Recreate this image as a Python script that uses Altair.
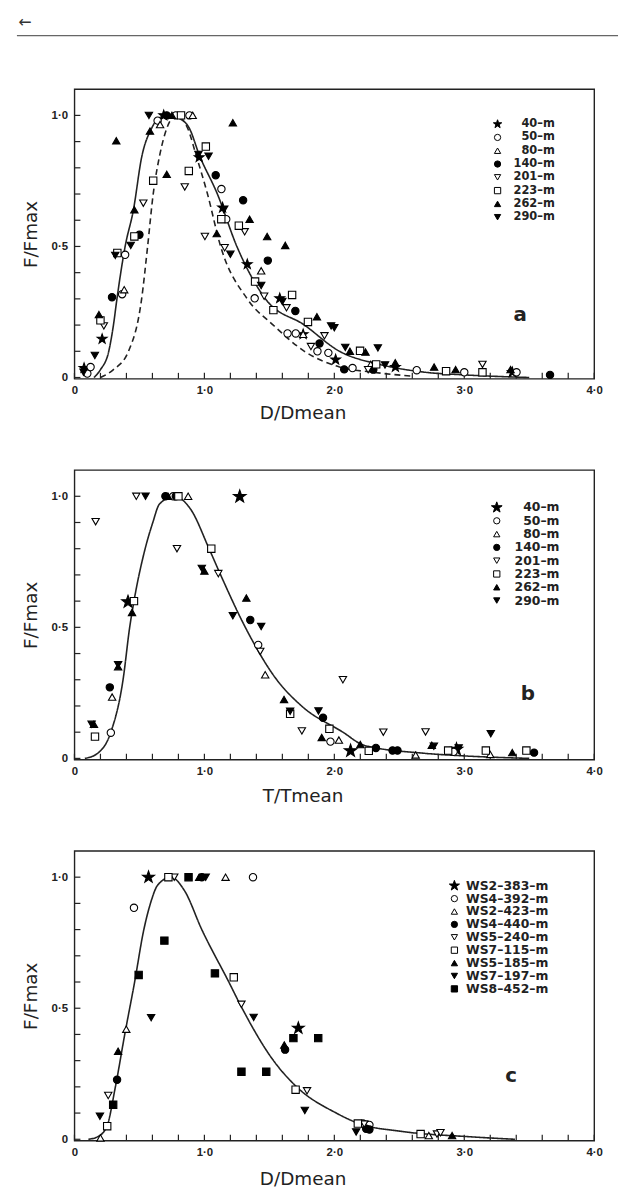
import altair as alt
import pandas as pd

W, H = 524, 292
XDOM = [0, 4]
YDOM = [-0.005, 1.1]
XTICKS = [0, 0.2, 0.4, 0.6, 0.8, 1.0, 1.2, 1.4, 1.6, 1.8, 2.0, 2.2, 2.4, 2.6, 2.8, 3.0, 3.2, 3.4, 3.6, 3.8, 4.0]
YTICKS = [0, 0.1, 0.2, 0.3, 0.4, 0.5, 0.6, 0.7, 0.8, 0.9, 1.0]
XLABELS = [0, 1, 2, 3, 4]
YLABELS = [0, 0.5, 1.0]

# ---------------- panel a : F/Fmax vs D/Dmean ----------------
A_NAMES = ["40–m", "50–m", "80–m", "140–m", "201–m", "223–m", "262–m", "290–m"]
A_40_X = [0.074, 0.213, 0.687, 0.96, 1.14, 1.33, 1.58, 1.76, 2.01, 2.47, 3.37]
A_40_Y = [0.036, 0.147, 1.0, 0.84, 0.648, 0.432, 0.302, 0.165, 0.068, 0.04, 0.02]
A_50_X = [0.099, 0.124, 0.367, 0.39, 0.64, 0.78, 0.885, 1.131, 1.168, 1.387, 1.64, 1.703, 1.87, 1.954, 2.14, 2.634, 3.0, 3.402]
A_50_Y = [0.015, 0.04, 0.318, 0.468, 0.98, 1.0, 1.0, 0.719, 0.604, 0.302, 0.168, 0.168, 0.1, 0.094, 0.036, 0.028, 0.02, 0.02]
A_80_X = [0.383, 0.659, 0.91, 1.437, 1.76, 2.28]
A_80_Y = [0.335, 0.965, 1.0, 0.407, 0.165, 0.05]
A_140_X = [0.289, 0.5, 0.71, 1.087, 1.298, 1.488, 1.7, 1.886, 2.076, 2.3, 3.66]
A_140_Y = [0.306, 0.545, 1.0, 0.772, 0.676, 0.446, 0.254, 0.13, 0.031, 0.03, 0.01]
A_201_X = [0.226, 0.53, 0.849, 1.004, 1.156, 1.31, 1.46, 1.632, 1.82, 1.924, 2.26, 3.14]
A_201_Y = [0.197, 0.665, 0.727, 0.538, 0.495, 0.556, 0.31, 0.266, 0.118, 0.159, 0.03, 0.05]
A_223_X = [0.2, 0.33, 0.461, 0.606, 0.82, 0.88, 1.011, 1.13, 1.265, 1.39, 1.531, 1.675, 1.797, 2.198, 2.322, 2.86, 3.14]
A_223_Y = [0.218, 0.475, 0.538, 0.751, 1.0, 0.788, 0.881, 0.604, 0.579, 0.366, 0.257, 0.315, 0.212, 0.102, 0.05, 0.024, 0.02]
A_262_X = [0.188, 0.322, 0.461, 0.581, 0.71, 0.75, 1.095, 1.219, 1.348, 1.483, 1.622, 1.866, 2.12, 2.24, 2.469, 2.768, 2.933, 3.356]
A_262_Y = [0.24, 0.903, 0.64, 0.94, 0.775, 1.0, 0.549, 0.972, 0.604, 0.538, 0.504, 0.232, 0.1, 0.097, 0.056, 0.04, 0.03, 0.03]
A_290_X = [0.07, 0.157, 0.314, 0.433, 0.573, 0.954, 1.032, 1.15, 1.2, 1.437, 1.6, 1.975, 2.0, 2.084, 2.335, 2.39]
A_290_Y = [0.02, 0.084, 0.466, 0.504, 1.0, 0.851, 0.844, 0.64, 0.47, 0.351, 0.29, 0.197, 0.19, 0.115, 0.113, 0.048]
A_SOLID_X = [0.15, 0.2, 0.264, 0.3, 0.327, 0.39, 0.454, 0.517, 0.593, 0.65, 0.72, 0.8, 0.885, 0.96, 1.1, 1.25, 1.47, 1.77, 2.04, 2.35, 2.7, 3.0, 3.5]
A_SOLID_Y = [0.0, 0.03, 0.1, 0.2, 0.3, 0.5, 0.64, 0.84, 0.95, 0.99, 1.0, 0.99, 0.95, 0.85, 0.7, 0.5, 0.3, 0.2, 0.1, 0.05, 0.02, 0.01, 0.0]
A_DASH_X = [0.2, 0.3, 0.416, 0.517, 0.563, 0.606, 0.657, 0.71, 0.78, 0.872, 0.935, 1.024, 1.125, 1.33, 1.53, 1.77, 2.04, 2.3, 2.6]
A_DASH_Y = [0.0, 0.03, 0.1, 0.3, 0.5, 0.7, 0.85, 0.95, 1.0, 0.95, 0.85, 0.7, 0.5, 0.3, 0.2, 0.1, 0.04, 0.02, 0.005]

# ---------------- panel b : F/Fmax vs T/Tmean ----------------
B_NAMES = A_NAMES
B_40_X = [0.412, 1.272, 2.125, 2.94]
B_40_Y = [0.597, 0.999, 0.029, 0.035]
B_50_X = [0.28, 0.76, 1.414, 1.97, 2.918]
B_50_Y = [0.098, 1.0, 0.433, 0.064, 0.025]
B_80_X = [0.29, 0.875, 1.468, 2.035, 2.626, 3.2]
B_80_Y = [0.234, 1.0, 0.319, 0.07, 0.013, 0.015]
B_140_X = [0.272, 0.70, 0.78, 1.353, 1.913, 2.32, 2.448, 2.486, 3.537]
B_140_Y = [0.271, 1.0, 1.0, 0.528, 0.155, 0.04, 0.03, 0.03, 0.022]
B_201_X = [0.163, 0.476, 0.789, 1.107, 1.43, 1.75, 2.066, 2.377, 2.702]
B_201_Y = [0.903, 1.0, 0.8, 0.705, 0.408, 0.105, 0.3, 0.1, 0.101]
B_223_X = [0.158, 0.458, 0.8, 1.053, 1.66, 1.962, 2.265, 2.876, 3.166, 3.478]
B_223_Y = [0.083, 0.6, 1.0, 0.8, 0.17, 0.113, 0.029, 0.03, 0.03, 0.03]
B_262_X = [0.15, 0.336, 0.443, 0.72, 1.0, 1.323, 1.613, 1.903, 2.2, 2.75, 3.369]
B_262_Y = [0.13, 0.35, 0.557, 1.0, 0.715, 0.612, 0.225, 0.08, 0.053, 0.05, 0.022]
B_290_X = [0.132, 0.336, 0.547, 0.98, 1.219, 1.437, 1.66, 1.878, 2.766, 2.957, 3.204]
B_290_Y = [0.13, 0.357, 1.0, 0.725, 0.544, 0.503, 0.18, 0.181, 0.046, 0.04, 0.094]
B_CURVE_X = [0.08, 0.18, 0.28, 0.374, 0.425, 0.458, 0.544, 0.603, 0.654, 0.768, 0.895, 1.036, 1.125, 1.315, 1.557, 1.748, 2.066, 2.23, 2.68, 2.98, 3.5]
B_CURVE_Y = [0.0, 0.02, 0.1, 0.3, 0.5, 0.6, 0.8, 0.9, 0.97, 1.0, 0.95, 0.8, 0.7, 0.5, 0.3, 0.2, 0.1, 0.05, 0.02, 0.01, 0.0]

# ---------------- panel c : F/Fmax vs D/Dmean ----------------
C_NAMES = ["WS2–383–m", "WS4–392–m", "WS2–423–m", "WS4–440–m", "WS5–240–m",
           "WS7–115–m", "WS5–185–m", "WS7–197–m", "WS8–452–m"]
C_1_X = [0.57, 1.723]
C_1_Y = [1.0, 0.424]
C_2_X = [0.458, 1.374, 2.22, 2.27]
C_2_Y = [0.883, 1.0, 0.06, 0.055]
C_3_X = [0.2, 0.399, 1.163, 2.727]
C_3_Y = [0.005, 0.42, 1.0, 0.014]
C_4_X = [0.328, 0.98, 1.621, 2.245, 2.27]
C_4_Y = [0.227, 1.0, 0.342, 0.04, 0.037]
C_5_X = [0.26, 0.768, 1.285, 1.79, 2.23, 2.79, 2.817]
C_5_Y = [0.167, 1.0, 0.515, 0.185, 0.058, 0.02, 0.025]
C_6_X = [0.252, 0.723, 1.226, 1.702, 2.181, 2.664]
C_6_Y = [0.05, 1.0, 0.618, 0.189, 0.06, 0.02]
C_7_X = [0.336, 0.96, 1.615, 2.906]
C_7_Y = [0.336, 1.0, 0.36, 0.014]
C_8_X = [0.196, 0.59, 1.01, 1.379, 1.773, 2.168]
C_8_Y = [0.088, 0.464, 1.0, 0.465, 0.11, 0.028]
C_9_X = [0.298, 0.494, 0.692, 0.878, 1.081, 1.285, 1.476, 1.685, 1.876]
C_9_Y = [0.132, 0.627, 0.758, 1.0, 0.633, 0.258, 0.258, 0.386, 0.386]
C_CURVE_X = [0.107, 0.18, 0.25, 0.315, 0.387, 0.463, 0.534, 0.585, 0.641, 0.743, 0.845, 0.98, 1.188, 1.29, 1.532, 1.71, 2.015, 2.19, 2.52, 3.03, 3.39]
C_CURVE_Y = [0.0, 0.01, 0.05, 0.2, 0.4, 0.6, 0.8, 0.9, 0.97, 1.0, 0.95, 0.8, 0.6, 0.5, 0.3, 0.2, 0.1, 0.06, 0.03, 0.01, 0.0]

PANEL_LETTERS = ["a", "b", "c"]
LETTER_X = [3.43, 3.49, 3.36]
LETTER_Y = [0.24, 0.244, 0.242]

# unit five-point star outline (custom Vega symbol path)
STAR_PTS = [(0, -1), (0.235, -0.324), (0.951, -0.309), (0.380, 0.124), (0.588, 0.809),
            (0, 0.4), (-0.588, 0.809), (-0.380, 0.124), (-0.951, -0.309), (-0.235, -0.324)]


def star(k):
    return "M" + "L".join(f"{px * k:.3f},{py * k:.3f}" for px, py in STAR_PTS) + "Z"


def points_df(names, xs, ys):
    rows = []
    for n, xl, yl in zip(names, xs, ys):
        for xv, yv in zip(xl, yl):
            rows.append({"series": n, "x": xv, "y": yv})
    return pd.DataFrame(rows)


INK = "#222222"
LBL = "datum.value == 0 ? '0' : replace(format(datum.value, '.1f'), '.', '·')"


def xscale():
    return alt.Scale(domain=XDOM, nice=False, zero=False)


def yscale():
    return alt.Scale(domain=YDOM, nice=False, zero=False)


def make_xaxis(title, ty):
    return alt.Axis(values=XLABELS, labelExpr=LBL, title=title, ticks=False, tickSize=0,
                    domain=False, grid=False, labelFlush=False,
                    labelFont="Liberation Sans", labelFontSize=11.5, labelFontWeight="bold",
                    labelColor=INK, labelPadding=6,
                    titleFont="DejaVu Sans", titleFontSize=18.5, titleFontWeight="normal",
                    titleColor=INK, titleX=230, titleY=ty, titleAlign="center",
                    titleBaseline="alphabetic")


def make_yaxis():
    return alt.Axis(values=YLABELS, labelExpr=LBL, title="F/Fmax", ticks=False, tickSize=0,
                    domain=False, grid=False,
                    labelFont="Liberation Sans", labelFontSize=11.5, labelFontWeight="bold",
                    labelColor=INK, labelPadding=7,
                    titleFont="DejaVu Sans", titleFontSize=18.5, titleFontWeight="normal",
                    titleColor=INK, titleX=-38, titleY=H / 2, titleAngle=270,
                    titleAlign="center", titleBaseline="alphabetic")


def panel(df, names, shapes, fills, curves, letter_i, xtitle, ty, leg, top_deco=False):
    def X(f):
        return alt.X(f, scale=xscale(), axis=make_xaxis(xtitle, ty))

    def Y(f):
        return alt.Y(f, scale=yscale(), axis=make_yaxis())

    layers = []
    for cx, cy, dash in curves:
        line = alt.Chart(pd.DataFrame({"x": cx, "y": cy})).mark_line(
            color=INK, strokeWidth=1.6, interpolate="monotone",
            strokeDash=[6, 4] if dash else [1, 0])
        layers.append(line.encode(x=X("x:Q"), y=Y("y:Q")))
    layers.append(alt.Chart(pd.DataFrame({"x": XTICKS})).mark_rule(color=INK, strokeWidth=1.2).encode(
        x=X("x:Q"), y=alt.value(H), y2=alt.value(H - 6)))
    layers.append(alt.Chart(pd.DataFrame({"y": YTICKS})).mark_rule(color=INK, strokeWidth=1.2).encode(
        y=Y("y:Q"), x=alt.value(0), x2=alt.value(6)))
    layers.append(alt.Chart(df).mark_point(filled=True, strokeWidth=1.1,
                                           opacity=1, size=55).encode(
        x=X("x:Q"), y=Y("y:Q"),
        shape=alt.Shape("series:N", scale=alt.Scale(domain=names, range=shapes), legend=leg),
        fill=alt.Fill("series:N", scale=alt.Scale(domain=names, range=fills), legend=leg),
        stroke=alt.Stroke("series:N", scale=alt.Scale(domain=names, range=["black"] * len(names)),
                          legend=leg),
    ))
    layers.append(alt.Chart(pd.DataFrame({"x": [LETTER_X[letter_i]], "y": [LETTER_Y[letter_i]],
                                          "t": [PANEL_LETTERS[letter_i]]})).mark_text(
        font="DejaVu Sans", fontSize=20, fontWeight="bold", color=INK).encode(
        x=X("x:Q"), y=Y("y:Q"), text="t:N"))
    if top_deco:
        layers.append(alt.Chart(pd.DataFrame({"t": ["←"]})).mark_text(
            font="DejaVu Sans", fontSize=16, color="#333333", baseline="top").encode(
            text="t:N", x=alt.value(-50), y=alt.value(-76)))
        layers.append(alt.Chart(pd.DataFrame({"t": [1]})).mark_rule(
            color="#666666", strokeWidth=1.5).encode(
            x=alt.value(-58), x2=alt.value(548), y=alt.value(-54)))
    return alt.layer(*layers).properties(width=W, height=H)


def legend(lx, ly, fs, align, offset, rowpad):
    return alt.Legend(title=None, orient="none", legendX=lx, legendY=ly, padding=0,
                      symbolSize=40, symbolStrokeWidth=1,
                      labelFont="DejaVu Sans", labelFontSize=fs, labelFontWeight="bold",
                      labelColor=INK, labelAlign=align, labelOffset=offset,
                      rowPadding=rowpad, labelLimit=300)


AB_FILLS = ["black", "white", "white", "black", "white", "white", "black", "black"]

df_a = points_df(A_NAMES,
                 [A_40_X, A_50_X, A_80_X, A_140_X, A_201_X, A_223_X, A_262_X, A_290_X],
                 [A_40_Y, A_50_Y, A_80_Y, A_140_Y, A_201_Y, A_223_Y, A_262_Y, A_290_Y])
pa = panel(df_a, A_NAMES,
           [star(1.4), "circle", "triangle-up", "circle", "triangle-down", "square", "triangle-up", "triangle-down"],
           AB_FILLS, [(A_SOLID_X, A_SOLID_Y, False), (A_DASH_X, A_DASH_Y, True)], 0, "D/Dmean", 40,
           legend(420.8, 29.5, 11.5, "right", 52, 0.4), top_deco=True)

df_b = points_df(B_NAMES,
                 [B_40_X, B_50_X, B_80_X, B_140_X, B_201_X, B_223_X, B_262_X, B_290_X],
                 [B_40_Y, B_50_Y, B_80_Y, B_140_Y, B_201_Y, B_223_Y, B_262_Y, B_290_Y])
pb = panel(df_b, B_NAMES,
           [star(1.8), "circle", "triangle-up", "circle", "triangle-down", "square", "triangle-up", "triangle-down"],
           AB_FILLS, [(B_CURVE_X, B_CURVE_Y, False)], 1, "T/Tmean", 42,
           legend(419.5, 31.5, 12.5, "right", 57, 0.4))

df_c = points_df(C_NAMES,
                 [C_1_X, C_2_X, C_3_X, C_4_X, C_5_X, C_6_X, C_7_X, C_8_X, C_9_X],
                 [C_1_Y, C_2_Y, C_3_Y, C_4_Y, C_5_Y, C_6_Y, C_7_Y, C_8_Y, C_9_Y])
pc = panel(df_c, C_NAMES,
           [star(1.7), "circle", "triangle-up", "circle", "triangle-down", "square", "triangle-up", "triangle-down", "square"],
           ["black", "white", "white", "black", "white", "white", "black", "black", "black"],
           [(C_CURVE_X, C_CURVE_Y, False)], 2, "D/Dmean", 44,
           legend(376.8, 28.8, 12.5, "left", 5.5, 0))

chart = alt.vconcat(pa, pb, pc, spacing=92, bounds="flush").resolve_scale(
    shape="independent", fill="independent", stroke="independent"
).resolve_legend(
    shape="independent", fill="independent", stroke="independent"
).properties(
    padding={"left": 7, "top": 0, "right": 0, "bottom": 0},
    background="white",
).configure_view(stroke=INK, strokeWidth=1.4)

chart.save("out.html", embed_options={"renderer": "svg", "actions": False})
